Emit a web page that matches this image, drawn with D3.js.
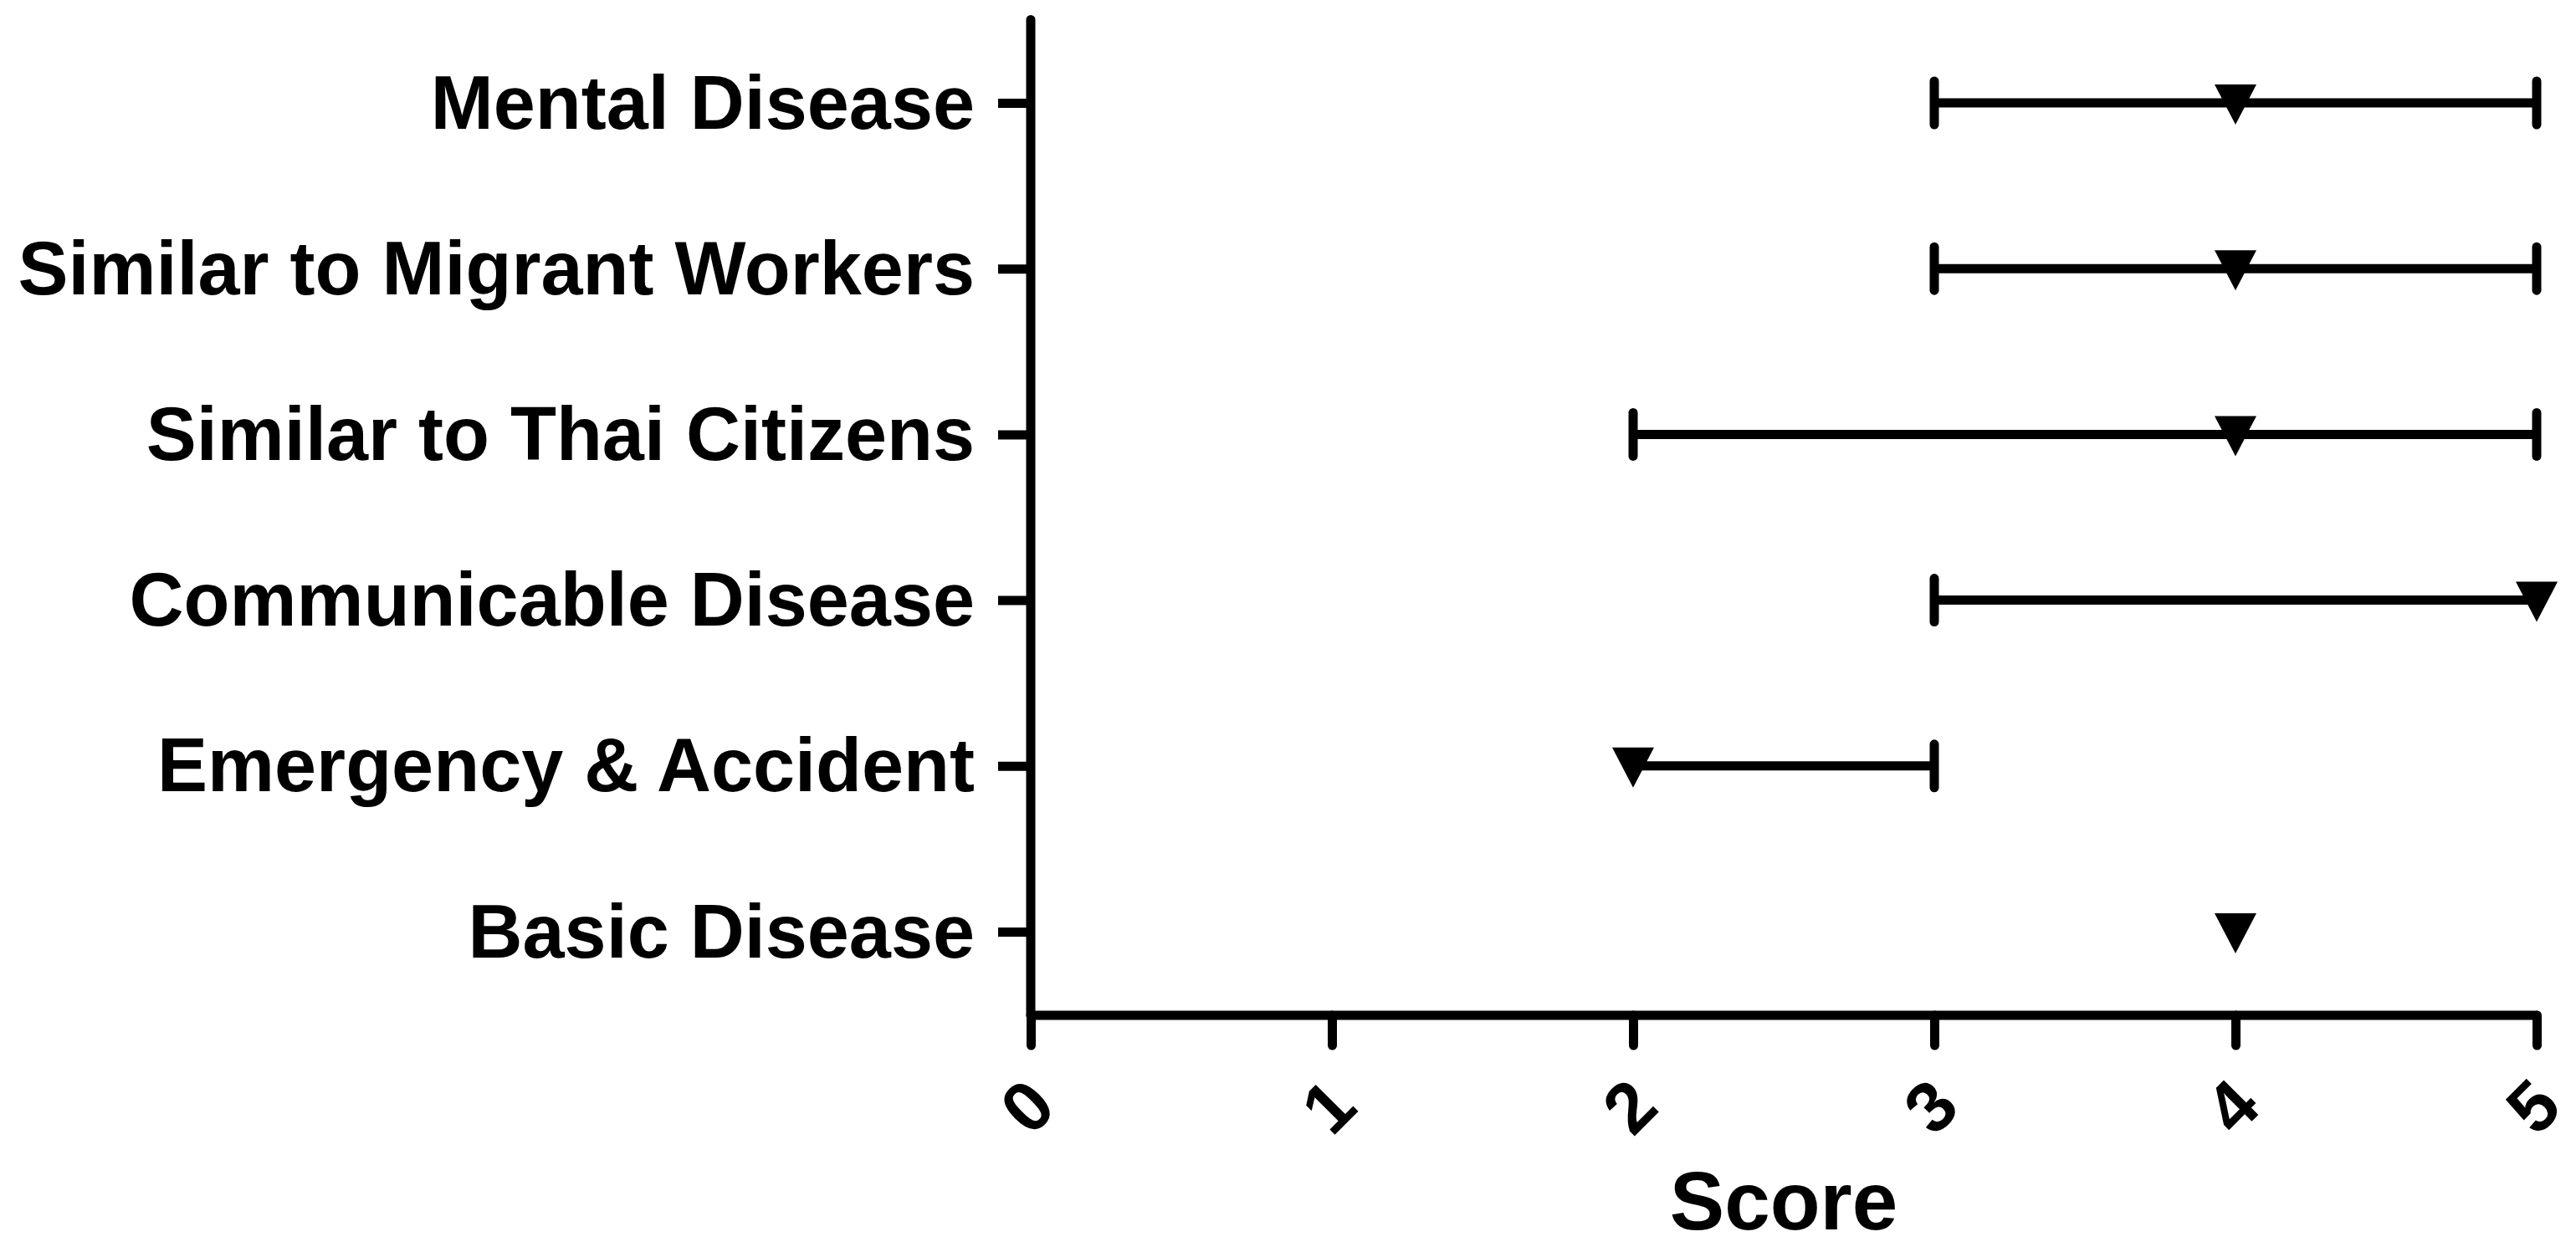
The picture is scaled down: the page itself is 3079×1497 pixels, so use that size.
<!DOCTYPE html>
<html>
<head>
<meta charset="utf-8">
<script src="https://cdn.jsdelivr.net/npm/d3@7"></script>
<style>
  html, body { margin: 0; padding: 0; background: #fff; }
  svg { display: block; }
  text { font-family: "Liberation Sans", Arial, sans-serif; font-weight: bold; fill: #000; }
</style>
</head>
<body>
<svg id="chart" width="3079" height="1497"></svg>
<script>
// ---- data ----
const categories = ["Mental Disease", "Similar to Migrant Workers", "Similar to Thai Citizens",
                    "Communicable Disease", "Emergency & Accident", "Basic Disease"];
const medians = [4, 4, 4, 5, 2, 4];
const lows    = [3, 3, 2, 3, 2, 4];
const highs   = [5, 5, 5, 5, 3, 4];
const xTicks  = [0, 1, 2, 3, 4, 5];
const xTitle  = "Score";

// ---- layout ----
const svg = d3.select("#chart");
const X0 = 1232, X1 = 3032, YTOP = 18, YAX = 1214;
const lw = 11;

const x = d3.scaleLinear().domain([0, 5]).range([X0, X1]);
const y = d3.scalePoint().domain(categories).range([123, 1114]);

svg.append("rect").attr("width", 3079).attr("height", 1497).attr("fill", "#fff");

// y axis line
svg.append("line")
  .attr("x1", X0).attr("x2", X0).attr("y1", YTOP + lw / 2).attr("y2", YAX)
  .attr("stroke", "#000").attr("stroke-width", lw).attr("stroke-linecap", "round");
// x axis line
svg.append("line")
  .attr("x1", X0).attr("x2", X1).attr("y1", YAX).attr("y2", YAX)
  .attr("stroke", "#000").attr("stroke-width", lw).attr("stroke-linecap", "round");

// y ticks via d3 axis
const yAxis = svg.append("g").attr("transform", `translate(${X0},0)`)
  .call(d3.axisLeft(y).tickSize(39).tickPadding(28));
yAxis.select(".domain").remove();
yAxis.selectAll(".tick line").attr("stroke", "#000").attr("stroke-width", lw);
yAxis.selectAll(".tick text")
  .attr("font-size", 90).attr("font-family", "Liberation Sans, Arial, sans-serif")
  .attr("font-weight", "bold").attr("fill", "#000")
  .attr("dy", null).attr("y", 30);

// x ticks via d3 axis
const xAxis = svg.append("g").attr("transform", `translate(0,${YAX})`)
  .call(d3.axisBottom(x).tickValues(xTicks).tickFormat(d3.format("d")).tickSize(36));
xAxis.select(".domain").remove();
xAxis.selectAll(".tick line").attr("stroke", "#000").attr("stroke-width", lw)
  .attr("stroke-linecap", "round").attr("y2", 36);
xAxis.selectAll(".tick text")
  .attr("font-size", 85).attr("font-family", "Liberation Sans, Arial, sans-serif")
  .attr("font-weight", "bold").attr("fill", "#000")
  .attr("y", null).attr("dy", null)
  .attr("text-anchor", "middle").attr("dominant-baseline", "central")
  .attr("transform", "translate(-5,109) rotate(-45)");

// x title
svg.append("text").attr("x", (X0 + X1) / 2).attr("y", 1470)
  .attr("text-anchor", "middle").attr("font-size", 98).text(xTitle);

// ---- error bars ----
const rows = categories.map((c, i) => ({ c, m: medians[i], lo: lows[i], hi: highs[i] }));
const g = svg.append("g");
rows.forEach(r => {
  const cy = y(r.c);
  if (r.hi > r.lo) {
    g.append("line").attr("x1", x(r.lo)).attr("x2", x(r.hi)).attr("y1", cy).attr("y2", cy)
      .attr("stroke", "#000").attr("stroke-width", lw);
  }
  [[r.lo, r.lo < r.m], [r.hi, r.hi > r.m]].forEach(([v, show]) => {
    if (!show) return;
    g.append("line").attr("x1", x(v)).attr("x2", x(v)).attr("y1", cy - 26).attr("y2", cy + 26)
      .attr("stroke", "#000").attr("stroke-width", lw).attr("stroke-linecap", "round");
  });
});

// triangle-down marker symbol
const triDown = {
  draw(ctx, size) {
    const w = Math.sqrt(size), h = w * 0.96;
    ctx.moveTo(-w / 2, -h / 2);
    ctx.lineTo(w / 2, -h / 2);
    ctx.lineTo(0, h / 2);
    ctx.closePath();
  }
};
g.selectAll("path.mk").data(rows).join("path").attr("class", "mk")
  .attr("d", d3.symbol(triDown, 2500))
  .attr("transform", d => `translate(${x(d.m)},${y(d.c) + 2})`)
  .attr("fill", "#000");
</script>
</body>
</html>
